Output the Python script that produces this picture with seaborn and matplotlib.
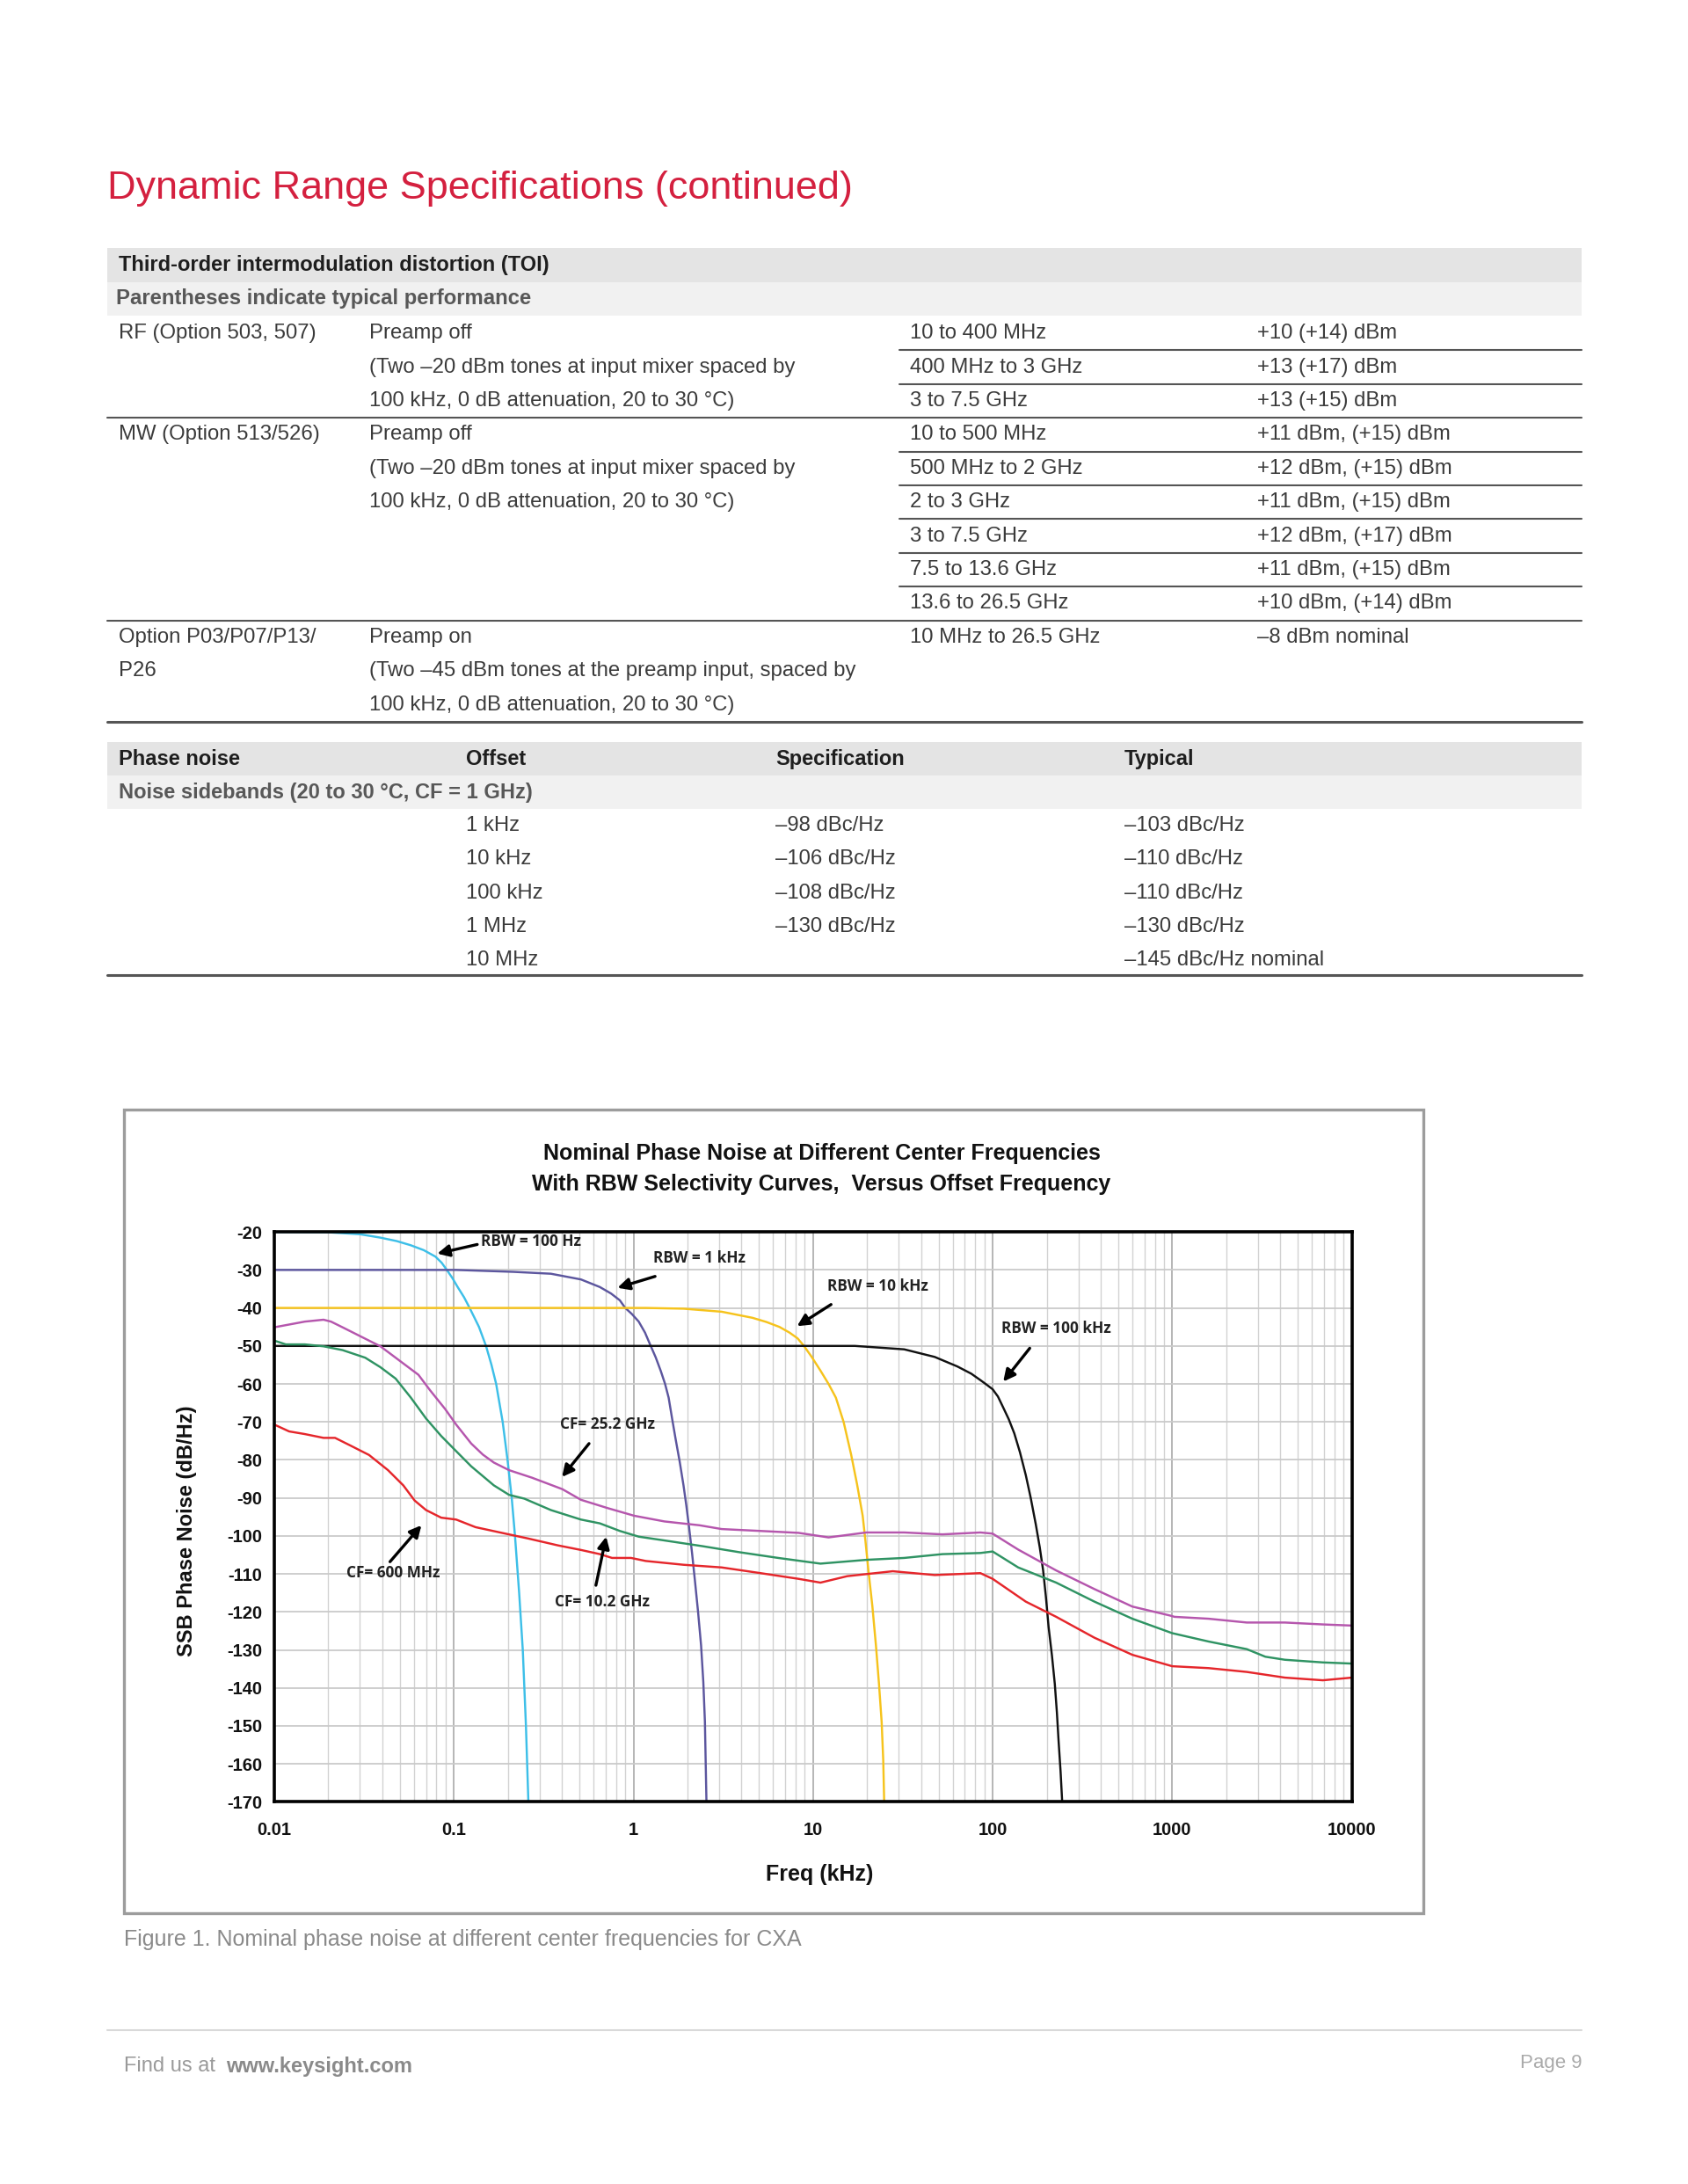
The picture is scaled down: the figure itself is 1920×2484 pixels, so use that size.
import matplotlib
matplotlib.use("Agg")
import matplotlib.pyplot as plt
import seaborn as sns
from matplotlib.lines import Line2D
from matplotlib.patches import Rectangle
from matplotlib.ticker import FixedLocator, LogLocator, NullFormatter

# ===============================
# Data : TOI table
# ===============================

toi_title = "Third-order intermodulation distortion (TOI)"
toi_subtitle = "Parentheses indicate typical performance"

toi_col1 = ["RF (Option 503, 507)", "", "",
            "MW (Option 513/526)", "", "", "", "", "",
            "Option P03/P07/P13/", "P26", ""]
toi_col2 = ["Preamp off",
            "(Two \u201320 dBm tones at input mixer spaced by",
            "100 kHz, 0 dB attenuation, 20 to 30 \u00b0C)",
            "Preamp off",
            "(Two \u201320 dBm tones at input mixer spaced by",
            "100 kHz, 0 dB attenuation, 20 to 30 \u00b0C)",
            "", "", "",
            "Preamp on",
            "(Two \u201345 dBm tones at the preamp input, spaced by",
            "100 kHz, 0 dB attenuation, 20 to 30 \u00b0C)"]
toi_range = ["10 to 400 MHz", "400 MHz to 3 GHz", "3 to 7.5 GHz",
             "10 to 500 MHz", "500 MHz to 2 GHz", "2 to 3 GHz",
             "3 to 7.5 GHz", "7.5 to 13.6 GHz", "13.6 to 26.5 GHz",
             "10 MHz to 26.5 GHz", "", ""]
toi_value = ["+10 (+14) dBm", "+13 (+17) dBm", "+13 (+15) dBm",
             "+11 dBm, (+15) dBm", "+12 dBm, (+15) dBm", "+11 dBm, (+15) dBm",
             "+12 dBm, (+17) dBm", "+11 dBm, (+15) dBm", "+10 dBm, (+14) dBm",
             "\u20138 dBm nominal", "", ""]
# rows that close a group (full width rule) or a sub row (short rule)
toi_full_rule = [2, 8]
toi_short_rule = [0, 1, 3, 4, 5, 6, 7]

# ===============================
# Data : phase noise table
# ===============================

pn_header = ["Phase noise", "Offset", "Specification", "Typical"]
pn_subtitle = "Noise sidebands (20 to 30 \u00b0C, CF = 1 GHz)"
pn_offset = ["1 kHz", "10 kHz", "100 kHz", "1 MHz", "10 MHz"]
pn_spec = ["\u201398 dBc/Hz", "\u2013106 dBc/Hz", "\u2013108 dBc/Hz", "\u2013130 dBc/Hz", ""]
pn_typ = ["\u2013103 dBc/Hz", "\u2013110 dBc/Hz", "\u2013110 dBc/Hz", "\u2013130 dBc/Hz",
          "\u2013145 dBc/Hz nominal"]

# ===============================
# Data : chart curves (offset in kHz, level in dB/Hz)
# ===============================

rbw100_f = [0.01, 0.02, 0.03, 0.039, 0.048, 0.0575, 0.068, 0.079, 0.0855, 0.0914, 0.098,
            0.105, 0.114, 0.1224, 0.13, 0.138, 0.151, 0.162, 0.172, 0.187, 0.199, 0.21,
            0.219, 0.231, 0.242, 0.252, 0.26]
rbw100_db = [-20, -20.1, -20.6, -21.5, -22.4, -23.5, -24.8, -26.5, -28.1, -30, -32.1,
             -34.5, -37.2, -40, -42.5, -45, -50, -55, -60, -70, -80, -90,
             -100, -115, -130, -150, -170]

rbw1k_f = [0.01, 0.103, 0.214, 0.347, 0.51, 0.65, 0.75, 0.84, 0.9, 0.98, 1.07, 1.16, 1.24,
           1.33, 1.42, 1.5, 1.57, 1.64, 1.72, 1.81, 1.9, 1.97, 2.04, 2.12, 2.2, 2.29,
           2.38, 2.45, 2.5, 2.55]
rbw1k_db = [-30, -30, -30.5, -31, -32.5, -34.5, -36.2, -38, -40, -41.6, -43.6, -46.5, -49.7,
            -53, -56.6, -60, -63.6, -69, -74.7, -80.5, -86.7, -92, -97.7, -104.5, -111.8,
            -120, -128.8, -138.5, -148.9, -170]

rbw10k_f = [0.01, 1.17, 1.9, 3.1, 4.6, 5.5, 6.5, 7.4, 8.2, 8.9, 9.8, 11, 12.2, 13.4, 14.8,
            16.3, 17.6, 18.9, 19.6, 20.3, 21.4, 22.4, 23.3, 24.1, 24.6, 24.9]
rbw10k_db = [-40, -40, -40.2, -41, -42.6, -43.7, -45, -46.5, -48, -50, -52.8, -56.5, -60,
             -63.6, -70, -78.6, -86.5, -94.7, -101.5, -108.7, -118.5, -128.8, -139,
             -148.9, -159, -170]

rbw100k_f = [0.01, 17.1, 32.2, 47.6, 63.6, 76, 85.5, 92, 100, 107, 114, 123, 132, 142, 153,
             163, 174, 183, 191, 198, 205, 214, 222, 228, 233, 239, 244]
rbw100k_db = [-50, -50, -50.9, -52.9, -55.4, -57.3, -59, -60.1, -61.4, -63.3, -66, -69.3,
              -73, -78, -84, -90, -97, -103, -109, -116, -124, -131.5, -139, -146.5,
              -154, -162, -170]

cf25_f = [0.01, 0.0148, 0.0188, 0.0207, 0.024, 0.0321, 0.039, 0.0474, 0.0635, 0.0735,
          0.0894, 0.103, 0.125, 0.145, 0.167, 0.203, 0.273, 0.402, 0.51, 0.72, 1.01, 1.49,
          2.33, 3.1, 5.1, 8.3, 12.2, 19.8, 32.2, 52.5, 85.5, 100, 138.8, 226, 369,
          600, 980, 1030, 1595, 2600, 4240, 6900, 10000]
cf25_db = [-45.1, -43.6, -43.1, -43.6, -45.1, -48.1, -50.1, -53.1, -57.6, -61.6,
           -66.6, -70.7, -75.7, -78.6, -80.7, -82.7, -84.7, -87.7, -90.5, -92.7, -94.7,
           -96.2, -97.2, -98.2, -98.7, -99.2, -100.4, -99.1, -99.1, -99.6, -99.1, -99.4,
           -103.6, -109.1, -114, -118.6, -121, -121.3, -121.8, -122.8, -122.8, -123.3,
           -123.6]

cf10_f = [0.01, 0.0116, 0.0148, 0.0188, 0.024, 0.0321, 0.039, 0.0474, 0.0576, 0.07,
          0.085, 0.103, 0.125, 0.167, 0.203, 0.247, 0.347, 0.51, 0.65, 0.84, 1.07,
          1.49, 2.42, 3.9, 6.4, 11, 19.8, 32.2, 52.5, 85.5, 100, 138.8, 226, 369, 600,
          1000, 1595, 2600, 3300, 4240, 6900, 10000]
cf10_db = [-48.6, -49.6, -49.6, -50.1, -51.1, -53.1, -55.6, -58.6, -63.6, -69.1,
           -73.7, -77.7, -81.7, -86.7, -89.2, -90.2, -93.2, -95.7, -96.7, -98.7, -100.2,
           -101.2, -102.7, -104.3, -105.8, -107.3, -106.3, -105.8, -104.8, -104.5, -104.1,
           -108.3, -112.3, -117.3, -121.8, -125.6, -127.8, -129.8, -131.8, -132.6, -133.3,
           -133.6]

cf600_f = [0.01, 0.0121, 0.0148, 0.0188, 0.0218, 0.0265, 0.0337, 0.043, 0.0523, 0.0605,
           0.07, 0.085, 0.103, 0.132, 0.185, 0.26, 0.38, 0.51, 0.65, 0.76, 0.97, 1.17,
           1.9, 3.1, 5.1, 8.3, 11, 15.5, 27.8, 47.6, 85.5, 100, 153, 226, 369, 600,
           1000, 1595, 2600, 4240, 6900, 10000]
cf600_db = [-70.7, -72.5, -73.2, -74.2, -74.2, -76.2, -78.7, -82.7, -86.7, -90.7,
            -93.2, -95.2, -95.7, -97.7, -99.2, -100.7, -102.5, -103.7, -104.8, -105.8,
            -105.8, -106.6, -107.6, -108.3, -109.8, -111.3, -112.3, -110.6, -109.3,
            -110.3, -109.8, -111.3, -117.3, -121.3, -126.8, -131.3, -134.3, -134.8,
            -135.8, -137.3, -138, -137.3]

curve_f = [rbw100_f, rbw1k_f, rbw10k_f, rbw100k_f, cf25_f, cf10_f, cf600_f]
curve_db = [rbw100_db, rbw1k_db, rbw10k_db, rbw100k_db, cf25_db, cf10_db, cf600_db]
curve_colors = ["#3dbfe8", "#5c569e", "#f6c31c", "#111111", "#b556ad", "#2f9363", "#e5262b"]

xtick_vals = [0.01, 0.1, 1, 10, 100, 1000, 10000]
xtick_labels = ["0.01", "0.1", "1", "10", "100", "1000", "10000"]
ytick_vals = [-20, -30, -40, -50, -60, -70, -80, -90, -100, -110, -120, -130, -140,
              -150, -160, -170]

# annotations: label, label anchor (left, middle), arrow tail, arrow head
ann_text = ["RBW = 100 Hz", "RBW = 1 kHz", "RBW = 10 kHz", "RBW = 100 kHz",
            "CF= 25.2 GHz", "CF= 600 MHz", "CF= 10.2 GHz"]
ann_pos = [(0.1416, -22.5), (1.294, -27), (12.0, -34.3), (112, -45.4),
           (0.389, -70.7), (0.0252, -109.8), (0.365, -117.3)]
ann_tail = [(0.135, -23.3), (1.32, -31.7), (12.6, -39.1), (161, -50.6),
            (0.566, -75.7), (0.0441, -106.8), (0.618, -113)]
ann_head = [(0.0809, -25.7), (0.815, -34.7), (8.15, -44.8), (114.6, -59.4),
            (0.4, -84.5), (0.066, -97.2), (0.705, -100.2)]

# ===============================
# Style
# ===============================

sns.set_theme(style="white")
plt.rcParams["font.family"] = ["Liberation Sans", "DejaVu Sans"]
plt.rcParams["axes.unicode_minus"] = False

SANS = ["Liberation Sans", "DejaVu Sans"]
ANNOT = ["Open Sans", "DejaVu Sans"]

RED = "#d4203f"
BODY = "#3b3b3b"
RULE = "#555555"

fig = plt.figure(figsize=(19.2, 24.84), dpi=100)
fig.patch.set_facecolor("white")

# page is laid out in a 1210 x 1565.4 grid
W, H = 1210.0, 1565.4


def fx(x):
    return x / W


def fy(y):
    return 1 - y / H


def put(x, y, s, size=17.2, weight="normal", color=BODY, family=SANS, ha="left"):
    fig.text(fx(x), fy(y), s, fontsize=size, fontweight=weight, color=color,
             family=family, ha=ha, va="center")


def hline(x0, x1, y, color=RULE, lw=1.5):
    fig.add_artist(Line2D([fx(x0), fx(x1)], [fy(y), fy(y)],
                          transform=fig.transFigure, color=color, lw=lw))


def band(x0, x1, y0, y1, color):
    fig.add_artist(Rectangle((fx(x0), fy(y1)), fx(x1) - fx(x0), fy(y0) - fy(y1),
                             transform=fig.transFigure, facecolor=color,
                             edgecolor="none", zorder=0))


# ===============================
# Page title
# ===============================

put(77, 135, "Dynamic Range Specifications (continued)", size=32.4, color=RED)

# ===============================
# TOI table
# ===============================

band(77, 1134, 178, 202, "#e4e4e4")
band(77, 1134, 202, 226, "#f1f1f1")
put(85, 190, toi_title, size=17, weight="bold", color="#1e1e1e")
put(83, 214, toi_subtitle, size=17.2, weight="bold", color="#585858")

row0, pitch = 239, 24.2
for i in range(len(toi_col1)):
    y = row0 + pitch * i
    put(85, y, toi_col1[i])
    put(265, y, toi_col2[i])
    put(652, y, toi_range[i])
    put(901, y, toi_value[i])

for i in toi_short_rule:
    hline(645, 1134, row0 + pitch * (i + 0.5))
for i in toi_full_rule:
    hline(77, 1134, row0 + pitch * (i + 0.5))
hline(77, 1134, row0 + pitch * 11.5, lw=2.2)

# ===============================
# Phase noise table
# ===============================

band(77, 1134, 532, 556, "#e4e4e4")
band(77, 1134, 556, 580, "#f1f1f1")
for x, s in zip([85, 334, 556, 806], pn_header):
    put(x, 544, s, size=17, weight="bold", color="#1e1e1e")
put(85, 568, pn_subtitle, size=17, weight="bold", color="#585858")

for i in range(len(pn_offset)):
    y = 592 + 24 * i
    put(334, y, pn_offset[i])
    put(556, y, pn_spec[i])
    put(806, y, pn_typ[i])
hline(77, 1134, 699, lw=2.2)

# ===============================
# Chart frame and titles
# ===============================

fig.add_artist(Rectangle((fx(89), fy(1371)), fx(1020) - fx(89), fy(795) - fy(1371),
                         transform=fig.transFigure, facecolor="none",
                         edgecolor="#9c9c9c", lw=2.4))

put(589, 827, "Nominal Phase Noise at Different Center Frequencies", size=18,
    weight="bold", color="#111111", ha="center")
put(589, 849, "With RBW Selectivity Curves,  Versus Offset Frequency", size=18,
    weight="bold", color="#111111", ha="center")

ax = fig.add_axes([fx(196.6), fy(1291.5), fx(969) - fx(196.6), fy(883) - fy(1291.5)])

for f, db, c in zip(curve_f, curve_db, curve_colors):
    sns.lineplot(x=f, y=db, ax=ax, color=c, lw=1.75, estimator=None, sort=False)

ax.set_xscale("log")
ax.set_xlim(0.01, 10000)
ax.set_ylim(-170, -20)

ax.xaxis.set_major_locator(FixedLocator(xtick_vals))
ax.set_xticklabels(xtick_labels)
ax.xaxis.set_minor_locator(LogLocator(base=10, subs=[2, 3, 4, 5, 6, 7, 8, 9], numticks=50))
ax.xaxis.set_minor_formatter(NullFormatter())
ax.set_yticks(ytick_vals)
ax.set_yticklabels([str(v) for v in ytick_vals])

ax.grid(which="major", axis="x", color="#a9a9a9", lw=1.2)
ax.grid(which="minor", axis="x", color="#d2d2d2", lw=1.0)
ax.grid(which="major", axis="y", color="#cacaca", lw=1.3)
ax.set_axisbelow(True)

for sp in ax.spines.values():
    sp.set_visible(True)
    sp.set_color("black")
    sp.set_linewidth(2.6)

ax.tick_params(axis="both", which="both", length=0)
ax.tick_params(axis="x", pad=16)
ax.tick_params(axis="y", pad=10)
for lab in ax.get_xticklabels() + ax.get_yticklabels():
    lab.set_fontweight("bold")
    lab.set_fontsize(14.5)
    lab.set_family(SANS)
    lab.set_color("#111111")

ax.set_xlabel("Freq (kHz)", fontsize=18, fontweight="bold", family=SANS, color="#111111")
ax.set_ylabel("SSB Phase Noise (dB/Hz)", fontsize=17, fontweight="bold", family=SANS,
              color="#111111")
ax.xaxis.set_label_coords(0.506, -0.109)
ax.yaxis.set_label_coords(-0.072, 0.475)

# annotations
for s, p, t, h in zip(ann_text, ann_pos, ann_tail, ann_head):
    ax.text(p[0], p[1], s, fontsize=12.4, fontweight="bold", family=ANNOT,
            color="#222222", ha="left", va="center")
    ax.annotate("", xy=h, xytext=t,
                arrowprops=dict(arrowstyle="-|>", color="black", lw=2.4,
                                mutation_scale=20, shrinkA=0, shrinkB=0))

# ===============================
# Caption and footer
# ===============================

put(89, 1390, "Figure 1. Nominal phase noise at different center frequencies for CXA",
    size=18, color="#8a8a8a")

hline(77, 1134, 1455, color="#d9d9d9", lw=1.5)
put(89, 1481, "Find us at", size=17, color="#9a9a9a")
put(162, 1481, "www.keysight.com", size=17, weight="bold", color="#8a8a8a")
put(1134, 1479, "Page 9", size=16, color="#aaaaaa", ha="right")

fig.savefig("out.png", dpi=100, facecolor="white")
